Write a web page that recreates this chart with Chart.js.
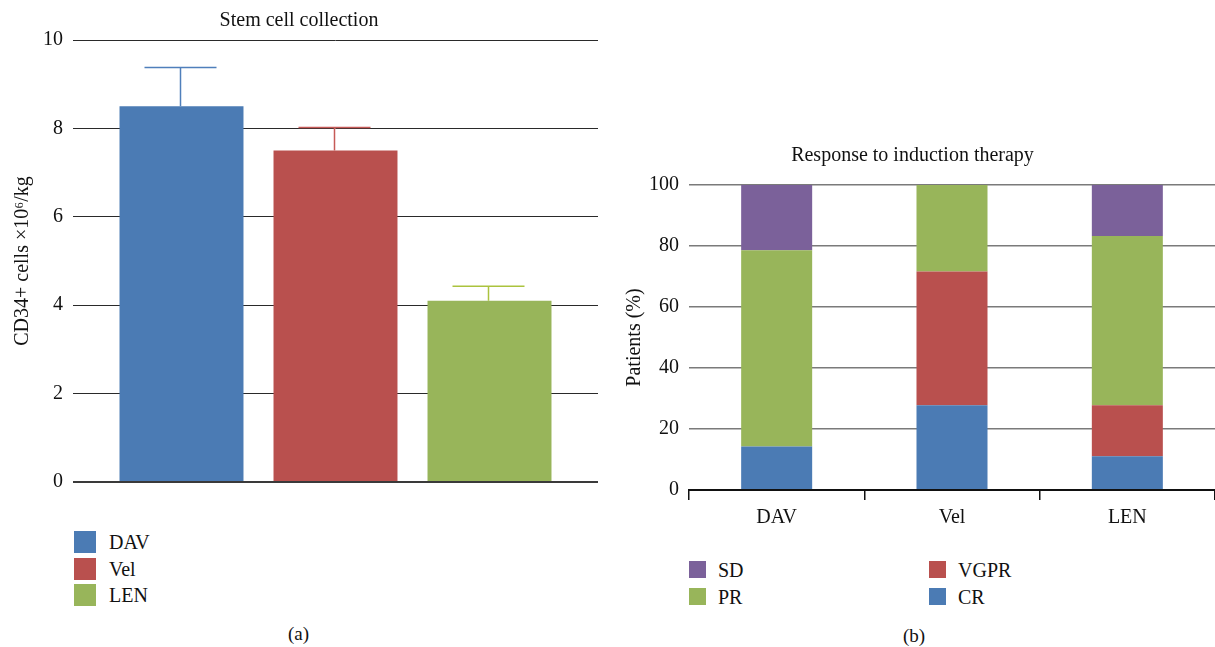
<!DOCTYPE html>
<html>
<head>
<meta charset="utf-8">
<script src="https://cdn.jsdelivr.net/npm/chart.js@4/dist/chart.umd.min.js"></script>
<style>
  body { margin: 0; background: #fff; width: 1215px; height: 647px; overflow: hidden; position: relative;
         font-family: "Liberation Serif", "Times New Roman", serif; color: #111; }
  canvas { position: absolute; }
  #leftWrap { position: absolute; left: 0; top: 0; width: 610px; height: 504px; }
  #rightWrap { position: absolute; left: 610px; top: 130px; width: 605px; height: 400px; }
  .leg { position: absolute; font-size: 20px; line-height: 22px; }
  .leg .box { position: absolute; left: 0; top: 0; }
  .leg .txt { position: absolute; white-space: nowrap; }
  .cap { position: absolute; font-size: 19px; }
</style>
</head>
<body>
<div id="leftWrap"><canvas id="stemChart" width="610" height="504"></canvas></div>
<div id="rightWrap"><canvas id="respChart" width="605" height="400"></canvas></div>
<div id="legendA"></div>
<div id="legendB"></div>
<div class="cap" style="left:288px; top:623px;">(a)</div>
<div class="cap" style="left:903px; top:625px;">(b)</div>
<script>
// ===============================
// DATA
// ===============================
const arms = ["DAV", "Vel", "LEN"];
const armColors = ["#4b7bb4", "#b9504e", "#98b55a"];
const errColors = ["#4f7fbb", "#c65a57", "#abc33e"];

// stem cell collection, CD34+ cells x10^6/kg
const cd34Mean = [8.5, 7.5, 4.1];
const cd34Upper = [9.38, 8.02, 4.43];
const cd34Ticks = [0, 2, 4, 6, 8, 10];

// response to induction therapy (% of patients)
const responseCats = ["DAV", "Vel", "LEN"];
const crPct = [14.3, 27.8, 11.1];
const vgprPct = [0, 43.8, 16.7];
const prPct = [64.3, 28.4, 55.5];
const sdPct = [21.4, 0, 16.7];

const respNames = ["CR", "VGPR", "PR", "SD"];
const respColors = ["#4b7bb4", "#b9504e", "#98b55a", "#7b619a"];

Chart.defaults.font.family = '"Liberation Serif", "Times New Roman", serif';
Chart.defaults.font.size = 20;
Chart.defaults.color = "#111";
Chart.defaults.animation = false;

// ===============================
// ERROR BARS (upper only)
// ===============================
const upperErrors = {
  id: "upperErrors",
  afterDatasetsDraw(chart) {
    const ctx = chart.ctx;
    const y = chart.scales.y;
    ctx.save();
    ctx.lineWidth = 1.5;
    chart.data.datasets.forEach((ds, i) => {
      const bar = chart.getDatasetMeta(i).data[0];
      const top = y.getPixelForValue(cd34Upper[i]);
      ctx.strokeStyle = errColors[i];
      ctx.beginPath();
      ctx.moveTo(bar.x - 1, bar.y);
      ctx.lineTo(bar.x - 1, top);
      ctx.moveTo(bar.x - 37, top);
      ctx.lineTo(bar.x + 35, top);
      ctx.stroke();
    });
    // zero line sits over the bars in the figure
    const y0 = y.getPixelForValue(0);
    ctx.strokeStyle = "#3a3a3a";
    ctx.lineWidth = 2;
    ctx.beginPath();
    ctx.moveTo(chart.chartArea.left, y0);
    ctx.lineTo(chart.chartArea.right, y0);
    ctx.stroke();
    ctx.restore();
  }
};

// ===============================
// CHART A
// ===============================
new Chart(document.getElementById("stemChart"), {
  type: "bar",
  data: {
    labels: [""],
    datasets: arms.map((a, i) => ({
      label: a,
      data: [cd34Mean[i]],
      backgroundColor: armColors[i],
      categoryPercentage: 0.88,
      barPercentage: 0.805
    }))
  },
  options: {
    responsive: false,
    layout: { padding: { left: 0, right: 12, top: 0, bottom: 0 } },
    plugins: {
      legend: { display: false },
      tooltip: { enabled: false },
      title: {
        display: true,
        text: "Stem cell collection",
        font: { size: 20, weight: "normal" },
        color: "#111",
        padding: { top: 9, bottom: 7 }
      }
    },
    scales: {
      x: {
        grid: { display: false },
        border: { display: false },
        ticks: { display: false },
        afterFit: s => { s.height = 14; }
      },
      y: {
        min: 0,
        max: 10,
        afterBuildTicks: s => { s.ticks = cd34Ticks.map(v => ({ value: v })); },
        ticks: { padding: 10, font: { size: 20 }, color: "#111" },
        grid: {
          drawTicks: false,
          color: c => c.tick && c.tick.value === 0 ? "#3a3a3a" : "#2a2a2a",
          lineWidth: c => c.tick && c.tick.value === 0 ? 2 : 1
        },
        border: { display: false },
        title: {
          display: true,
          text: "CD34+ cells \u00d710\u2076/kg",
          font: { size: 20 },
          color: "#111",
          padding: { top: 11, bottom: 0 }
        },
        afterFit: s => { s.width = 73; }
      }
    }
  },
  plugins: [upperErrors]
});

// ===============================
// CHART B
// ===============================
const respData = [crPct, vgprPct, prPct, sdPct];

new Chart(document.getElementById("respChart"), {
  type: "bar",
  data: {
    labels: responseCats,
    datasets: respNames.map((n, i) => ({
      label: n,
      data: respData[i],
      backgroundColor: respColors[i],
      categoryPercentage: 1,
      barPercentage: 0.405
    }))
  },
  options: {
    responsive: false,
    layout: { padding: { left: 0, right: 0, top: 0, bottom: 0 } },
    plugins: {
      legend: { display: false },
      tooltip: { enabled: false },
      title: {
        display: true,
        text: "Response to induction therapy",
        font: { size: 20, weight: "normal" },
        color: "#111",
        padding: { top: 14, bottom: 17 }
      }
    },
    scales: {
      x: {
        stacked: true,
        grid: { display: true, drawOnChartArea: false, drawTicks: true, tickLength: 10, color: "#111", lineWidth: 1.5, offset: true },
        border: { display: true, color: "#111", width: 2 },
        ticks: { padding: 6, font: { size: 20 }, color: "#111" },
        afterFit: s => { s.height = 40; }
      },
      y: {
        stacked: true,
        min: 0,
        max: 100,
        ticks: { stepSize: 20, padding: 10, font: { size: 20 }, color: "#111" },
        grid: {
          drawTicks: false,
          color: c => c.tick && c.tick.value === 0 ? "#111" : "#7a7a7a",
          lineWidth: c => c.tick && c.tick.value === 0 ? 2 : 1.5
        },
        border: { display: false },
        title: {
          display: true,
          text: "Patients (%)",
          font: { size: 20 },
          color: "#111",
          padding: { top: 13, bottom: 0 }
        },
        afterFit: s => { s.width = 79; }
      }
    }
  }
});

// ===============================
// LEGENDS
// ===============================
function legendItem(parent, x, y, size, color, text, gap) {
  const d = document.createElement("div");
  d.className = "leg";
  d.style.left = x + "px";
  d.style.top = y + "px";
  d.innerHTML =
    `<div class="box" style="width:${size}px;height:${size}px;background:${color}"></div>` +
    `<div class="txt" style="left:${gap}px;top:${(size - 22) / 2}px">${text}</div>`;
  parent.appendChild(d);
}

const legA = document.getElementById("legendA");
arms.forEach((a, i) => legendItem(legA, 74, 531 + i * 26.5, 22, armColors[i], a, 35));

const legB = document.getElementById("legendB");
// column order as in the figure: SD, PR on the left; VGPR, CR on the right
const legBOrder = [3, 2, 1, 0];
legBOrder.forEach((k, j) => {
  const col = j < 2 ? 0 : 1;
  const row = j < 2 ? j : j - 2;
  legendItem(legB, 689 + col * 240, 561 + row * 27, 17, respColors[k], respNames[k], 29);
});
</script>
</body>
</html>
